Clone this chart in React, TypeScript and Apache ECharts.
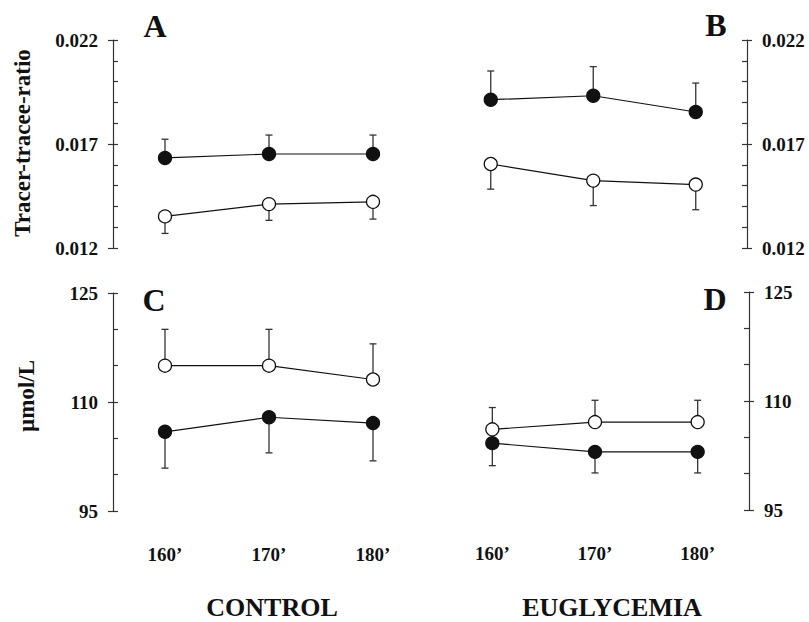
import React, { useEffect, useRef } from "react";
import * as echarts from "echarts";

// ---- data ----
const times = [160, 170, 180];

// Panel A (control, tracer-tracee ratio)
const aFilled = [0.01633, 0.01652, 0.01652];
const aFilledErr = [0.01723, 0.01743, 0.01743];
const aOpen = [0.01352, 0.01411, 0.01422];
const aOpenErr = [0.0127, 0.01333, 0.01339];

// Panel B (euglycemia, tracer-tracee ratio)
const bFilled = [0.01913, 0.01932, 0.01854];
const bFilledErr = [0.02051, 0.02072, 0.01993];
const bOpen = [0.01604, 0.01524, 0.01505];
const bOpenErr = [0.01483, 0.01404, 0.01384];

// Panel C (control, µmol/L)
const cOpen = [115, 115, 113.1];
const cOpenErr = [120, 120, 118];
const cFilled = [105.9, 107.9, 107.1];
const cFilledErr = [100.9, 103, 101.9];

// Panel D (euglycemia, µmol/L)
const dOpen = [106.1, 107.1, 107.1];
const dOpenErr = [109.1, 110.1, 110.1];
const dFilled = [104.2, 103, 103];
const dFilledErr = [101.1, 100.1, 100.1];

const ratioTicks = [0.012, 0.017, 0.022];
const concTicks = [95, 110, 125];

const FONT = "'Liberation Serif', 'Times New Roman', serif";

export default function App() {
  const ref = useRef<HTMLDivElement>(null);
  useEffect(() => {
    if (!ref.current) return;
    const chart = echarts.init(ref.current, null, { renderer: "svg" });

    const grids = [
      { left: 113, top: 40, width: 312, height: 208 },
      { left: 439.5, top: 40, width: 307.5, height: 208 },
      { left: 113, top: 293, width: 312, height: 218 },
      { left: 441, top: 292, width: 308, height: 218 },
    ].map((g) => ({ ...g, containLabel: false, outerBoundsMode: "none" }));

    const xAxes = grids.map((_, i) => ({
      type: "value",
      gridIndex: i,
      min: 155,
      max: 185,
      show: i >= 2,
      axisLine: { show: false },
      axisTick: { show: false },
      splitLine: { show: false },
      axisLabel: {
        show: i >= 2,
        customValues: times,
        formatter: (v: number) => `${v}\u2019`,
        margin: 34,
        fontFamily: FONT,
        fontWeight: "bold",
        fontSize: 19,
        color: "#111",
      },
    }));

    const ranges = [
      { min: ratioTicks[0], max: ratioTicks[2], major: 0.005, minor: 0.001, dec: 3 },
      { min: ratioTicks[0], max: ratioTicks[2], major: 0.005, minor: 0.001, dec: 3 },
      { min: concTicks[0], max: concTicks[2], major: 15, minor: 5, dec: 0 },
      { min: concTicks[0], max: concTicks[2], major: 15, minor: 5, dec: 0 },
    ];
    const yAxes: any[] = [];
    ranges.forEach((r, i) => {
      const pos = i % 2 === 0 ? "left" : "right";
      yAxes.push({
        type: "value",
        gridIndex: i,
        position: pos,
        min: r.min,
        max: r.max,
        interval: r.major,
        axisLine: { show: true, lineStyle: { color: "#333", width: 1.2 } },
        axisTick: { show: true, inside: false, length: 5, lineStyle: { color: "#333", width: 1.2 } },
        splitLine: { show: false },
        axisLabel: {
          margin: 15,
          formatter: (v: number) => v.toFixed(r.dec),
          fontFamily: FONT,
          fontWeight: "bold",
          fontSize: 19,
          color: "#111",
        },
      });
      yAxes.push({
        type: "value",
        gridIndex: i,
        position: pos,
        min: r.min,
        max: r.max,
        interval: r.minor,
        axisLine: { show: false },
        axisTick: { show: true, inside: true, length: 5, lineStyle: { color: "#333", width: 1.2 } },
        splitLine: { show: false },
        axisLabel: { show: false },
      });
    });

    const panels = [
      { filled: aFilled, fErr: aFilledErr, open: aOpen, oErr: aOpenErr },
      { filled: bFilled, fErr: bFilledErr, open: bOpen, oErr: bOpenErr },
      { filled: cFilled, fErr: cFilledErr, open: cOpen, oErr: cOpenErr },
      { filled: dFilled, fErr: dFilledErr, open: dOpen, oErr: dOpenErr },
    ];

    const errRender = (params: any, api: any) => {
      const p0 = api.coord([api.value(0), api.value(1)]);
      const p1 = api.coord([api.value(0), api.value(2)]);
      const st = { stroke: "#333", lineWidth: 1.3 };
      return {
        type: "group",
        children: [
          { type: "line", shape: { x1: p0[0], y1: p0[1], x2: p1[0], y2: p1[1] }, style: st },
          { type: "line", shape: { x1: p1[0] - 3.5, y1: p1[1], x2: p1[0] + 3.5, y2: p1[1] }, style: st },
        ],
      };
    };

    const series: any[] = [];
    panels.forEach((p, i) => {
      const yi = i * 2;
      const mk = (vals: number[], errs: number[], filled: boolean) => {
        series.push({
          type: "custom",
          xAxisIndex: i,
          yAxisIndex: yi,
          renderItem: errRender,
          data: times.map((t, k) => [t, vals[k], errs[k]]),
          z: 1,
          silent: true,
        });
        series.push({
          type: "line",
          xAxisIndex: i,
          yAxisIndex: yi,
          data: times.map((t, k) => [t, vals[k]]),
          symbol: "circle",
          symbolSize: 13,
          showSymbol: true,
          lineStyle: { color: "#111", width: 1.2 },
          itemStyle: {
            color: filled ? "#111" : "#fff",
            borderColor: "#111",
            borderWidth: 1.3,
          },
          z: 3,
          silent: true,
        });
      };
      mk(p.filled, p.fErr, true);
      mk(p.open, p.oErr, false);
    });

    const txt = (text: string, x: number, y: number, size: number, rot = 0) => ({
      type: "text",
      x,
      y,
      rotation: rot,
      style: {
        text,
        font: `bold ${size}px ${FONT}`,
        fill: "#111",
        textAlign: "center",
        textVerticalAlign: "middle",
      },
    });

    chart.setOption({
      animation: false,
      grid: grids,
      xAxis: xAxes,
      yAxis: yAxes,
      series,
      graphic: [
        txt("A", 155, 26, 32),
        txt("B", 716, 25, 32),
        txt("C", 154, 300, 32),
        txt("D", 715, 299, 32),
        txt("Tracer-tracee-ratio", 22, 143, 23, Math.PI / 2),
        txt("\u00b5mol/L", 26, 396, 23, Math.PI / 2),
        txt("CONTROL", 272, 607, 26),
        txt("EUGLYCEMIA", 612, 607, 26),
      ],
    });
    return () => chart.dispose();
  }, []);
  return (
    <div
      ref={ref}
      style={{ position: "absolute", left: 0, top: 0, width: 809, height: 622 }}
    />
  );
}
